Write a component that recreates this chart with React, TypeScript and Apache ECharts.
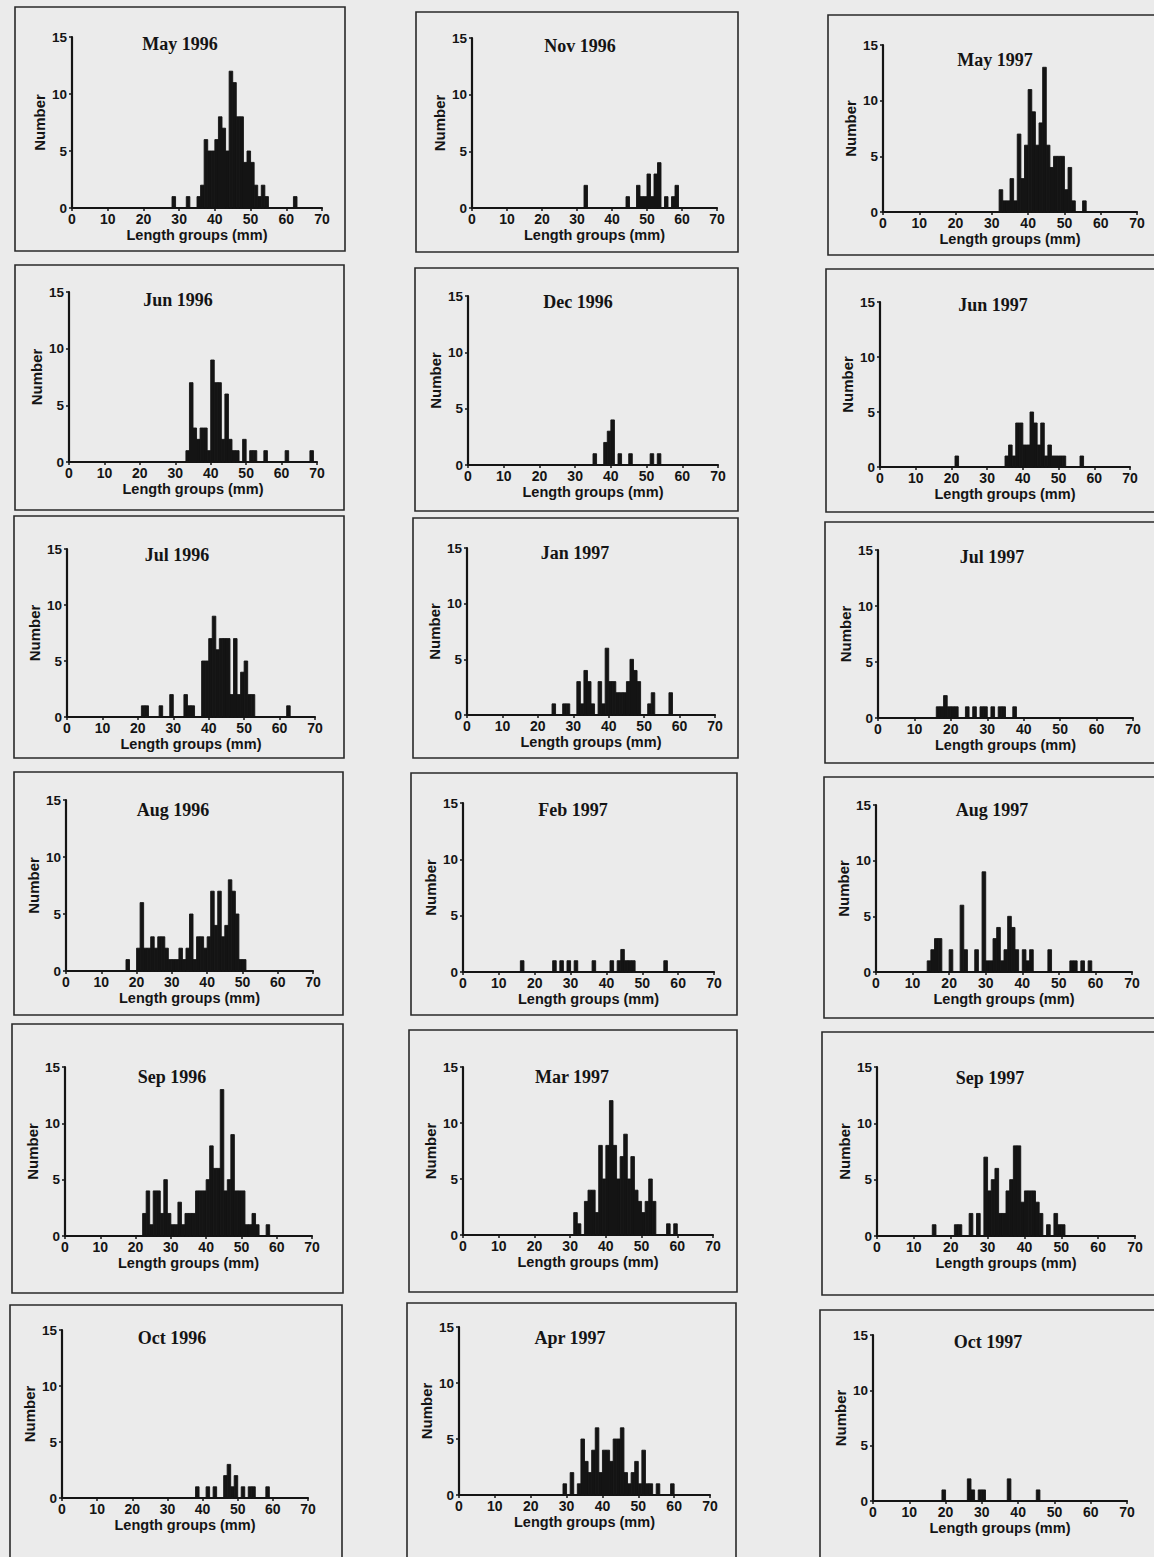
import React, { useEffect, useRef } from "react";
import * as echarts from "echarts";

// ---- data: [length group (mm), number of fish] ----
const may1996 = [[28,1],[32,1],[35,1],[36,2],[37,6],[38,5],[39,5],[40,6],[41,8],[42,7],[43,5],[44,12],[45,11],[46,8],[47,8],[48,4],[49,5],[50,4],[51,2],[52,1],[53,2],[54,1],[62,1]];
const jun1996 = [[33,1],[34,7],[35,3],[36,2],[37,3],[38,3],[39,1],[40,9],[41,7],[42,7],[43,2],[44,6],[45,2],[46,1],[47,1],[49,2],[51,1],[52,1],[55,1],[61,1],[68,1]];
const jul1996 = [[21,1],[22,1],[26,1],[29,2],[33,2],[34,1],[35,1],[38,5],[39,5],[40,7],[41,9],[42,6],[43,7],[44,7],[45,7],[46,2],[47,7],[48,2],[49,4],[50,5],[51,2],[52,2],[62,1]];
const aug1996 = [[17,1],[20,2],[21,6],[22,2],[23,2],[24,3],[25,2],[26,3],[27,3],[28,2],[29,1],[30,1],[31,1],[32,2],[33,1],[34,2],[35,5],[36,1],[37,3],[38,3],[39,2],[40,3],[41,7],[42,4],[43,7],[44,3],[45,4],[46,8],[47,7],[48,5],[49,1],[50,1]];
const sep1996 = [[22,2],[23,4],[24,1],[25,4],[26,4],[27,2],[28,5],[29,2],[30,1],[31,1],[32,3],[33,1],[34,2],[35,2],[36,2],[37,4],[38,4],[39,4],[40,5],[41,8],[42,6],[43,6],[44,13],[45,4],[46,5],[47,9],[48,4],[49,4],[50,4],[51,1],[52,1],[53,2],[54,1],[57,1]];
const oct1996 = [[38,1],[41,1],[43,1],[46,2],[47,3],[48,1],[49,2],[51,1],[53,1],[54,1],[58,1]];
const nov1996 = [[32,2],[44,1],[47,2],[48,1],[49,1],[50,3],[51,1],[52,3],[53,4],[55,1],[57,1],[58,2]];
const dec1996 = [[35,1],[38,2],[39,3],[40,4],[42,1],[45,1],[51,1],[53,1]];
const jan1997 = [[24,1],[27,1],[28,1],[31,3],[32,1],[33,4],[34,3],[35,1],[37,3],[38,1],[39,6],[40,3],[41,3],[42,2],[43,2],[44,2],[45,3],[46,5],[47,4],[48,3],[51,1],[52,2],[57,2]];
const feb1997 = [[16,1],[25,1],[27,1],[29,1],[31,1],[36,1],[41,1],[43,1],[44,2],[45,1],[46,1],[47,1],[56,1]];
const mar1997 = [[31,2],[32,1],[34,3],[35,4],[36,4],[37,2],[38,8],[39,5],[40,8],[41,12],[42,8],[43,5],[44,7],[45,9],[46,5],[47,7],[48,4],[49,3],[50,2],[51,3],[52,5],[53,3],[57,1],[59,1]];
const apr1997 = [[29,1],[31,2],[33,1],[34,5],[35,3],[36,2],[37,4],[38,6],[39,2],[40,4],[41,4],[42,3],[43,5],[44,5],[45,6],[46,2],[47,1],[48,2],[49,3],[50,1],[51,4],[52,1],[53,1],[55,1],[59,1]];
const may1997 = [[32,2],[33,1],[34,1],[35,3],[36,1],[37,7],[38,3],[39,6],[40,11],[41,9],[42,6],[43,8],[44,13],[45,6],[46,4],[47,5],[48,5],[49,5],[50,2],[51,4],[52,1],[55,1]];
const jun1997 = [[21,1],[35,1],[36,2],[37,1],[38,4],[39,4],[40,2],[41,2],[42,5],[43,4],[44,2],[45,4],[46,1],[47,2],[48,1],[49,1],[50,1],[51,1],[56,1]];
const jul1997 = [[16,1],[17,1],[18,2],[19,1],[20,1],[21,1],[24,1],[26,1],[28,1],[29,1],[31,1],[33,1],[34,1],[37,1]];
const aug1997 = [[14,1],[15,2],[16,3],[17,3],[20,2],[23,6],[24,2],[27,2],[29,9],[30,1],[31,1],[32,3],[33,4],[34,1],[35,2],[36,5],[37,4],[38,2],[40,2],[41,1],[42,2],[47,2],[53,1],[54,1],[56,1],[58,1]];
const sep1997 = [[15,1],[21,1],[22,1],[25,2],[27,2],[29,7],[30,4],[31,5],[32,6],[33,2],[34,2],[35,4],[36,5],[37,8],[38,8],[39,3],[40,4],[41,4],[42,4],[43,3],[44,2],[46,1],[48,2],[49,1],[50,1]];
const oct1997 = [[19,1],[26,2],[27,1],[29,1],[30,1],[37,2],[45,1]];

const panelTitles = [
  "May 1996", "Jun 1996", "Jul 1996", "Aug 1996", "Sep 1996", "Oct 1996",
  "Nov 1996", "Dec 1996", "Jan 1997", "Feb 1997", "Mar 1997", "Apr 1997",
  "May 1997", "Jun 1997", "Jul 1997", "Aug 1997", "Sep 1997", "Oct 1997",
];
const panelData = [
  may1996, jun1996, jul1996, aug1996, sep1996, oct1996,
  nov1996, dec1996, jan1997, feb1997, mar1997, apr1997,
  may1997, jun1997, jul1997, aug1997, sep1997, oct1997,
];
const xTicks = { min: 0, max: 70, interval: 10 };
const yTicks = { min: 0, max: 15, interval: 5 };
const xName = "Length groups (mm)";
const yName = "Number";

// ---- layout (pixels): plot area, title centre, frame box ----
type L = { x0: number; x70: number; y0: number; y15: number; tx: number; ty: number; box: number[] };
const layout: L[] = [
  { x0: 72, x70: 322, y0: 208, y15: 37, tx: 180, ty: 44, box: [15, 7, 345, 251] },
  { x0: 69, x70: 317, y0: 462, y15: 292, tx: 178, ty: 300, box: [15, 265, 344, 510] },
  { x0: 67, x70: 315, y0: 717, y15: 549, tx: 177, ty: 555, box: [14, 516, 344, 758] },
  { x0: 66, x70: 313, y0: 971, y15: 800, tx: 173, ty: 810, box: [14, 772, 343, 1015] },
  { x0: 65, x70: 312, y0: 1236, y15: 1067, tx: 172, ty: 1077, box: [12, 1024, 343, 1293] },
  { x0: 62, x70: 308, y0: 1498, y15: 1330, tx: 172, ty: 1338, box: [10, 1305, 342, 1565] },
  { x0: 472, x70: 717, y0: 208, y15: 38, tx: 580, ty: 46, box: [416, 12, 738, 252] },
  { x0: 468, x70: 718, y0: 465, y15: 296, tx: 578, ty: 302, box: [415, 268, 738, 511] },
  { x0: 467, x70: 715, y0: 715, y15: 548, tx: 575, ty: 553, box: [413, 518, 738, 758] },
  { x0: 463, x70: 714, y0: 972, y15: 803, tx: 573, ty: 810, box: [411, 773, 737, 1015] },
  { x0: 463, x70: 713, y0: 1235, y15: 1067, tx: 572, ty: 1077, box: [409, 1030, 737, 1292] },
  { x0: 459, x70: 710, y0: 1495, y15: 1327, tx: 570, ty: 1338, box: [407, 1303, 736, 1565] },
  { x0: 883, x70: 1137, y0: 212, y15: 45, tx: 995, ty: 60, box: [828, 15, 1165, 255] },
  { x0: 880, x70: 1130, y0: 467, y15: 302, tx: 993, ty: 305, box: [826, 269, 1165, 512] },
  { x0: 878, x70: 1133, y0: 718, y15: 550, tx: 992, ty: 557, box: [825, 522, 1165, 763] },
  { x0: 876, x70: 1132, y0: 972, y15: 805, tx: 992, ty: 810, box: [824, 777, 1165, 1018] },
  { x0: 877, x70: 1135, y0: 1236, y15: 1067, tx: 990, ty: 1078, box: [822, 1032, 1165, 1295] },
  { x0: 873, x70: 1127, y0: 1501, y15: 1335, tx: 988, ty: 1342, box: [820, 1310, 1165, 1565] },
];

const INK = "#141414";
const SANS = "'Liberation Sans', Arial, sans-serif";
const SERIF = "'Liberation Serif', 'Times New Roman', serif";

function buildOption() {
  const grid: any[] = [];
  const xAxis: any[] = [];
  const yAxis: any[] = [];
  const series: any[] = [];
  const graphic: any[] = [];
  layout.forEach((p, i) => {
    grid.push({ left: p.x0, top: p.y15, width: p.x70 - p.x0, height: p.y0 - p.y15, containLabel: false });
    xAxis.push({
      type: "value", gridIndex: i, ...xTicks,
      name: xName, nameLocation: "middle", nameGap: 19,
      nameTextStyle: { fontFamily: SANS, fontSize: 14.5, fontWeight: "bold", color: INK },
      axisLine: { show: true, onZero: false, lineStyle: { color: INK, width: 2.2 } },
      axisTick: { show: true, length: 3, lineStyle: { color: INK, width: 1.5 } },
      axisLabel: { fontFamily: SANS, fontSize: 14, fontWeight: "bold", color: INK, margin: 4 },
      splitLine: { show: false },
    });
    yAxis.push({
      type: "value", gridIndex: i, ...yTicks,
      name: yName, nameLocation: "middle", nameGap: 25, nameRotate: 90,
      nameTextStyle: { fontFamily: SANS, fontSize: 15, fontWeight: "bold", color: INK },
      axisLine: { show: true, onZero: false, lineStyle: { color: INK, width: 2.2 } },
      axisTick: { show: true, length: 3, lineStyle: { color: INK, width: 1.5 } },
      axisLabel: { fontFamily: SANS, fontSize: 13.5, fontWeight: "bold", color: INK, margin: 5 },
      splitLine: { show: false },
    });
    series.push({
      type: "custom", xAxisIndex: i, yAxisIndex: i,
      encode: { x: 0, y: 1 },
      data: panelData[i],
      renderItem: (params: any, api: any) => {
        const x = api.value(0);
        const c = api.value(1);
        const a = api.coord([x, c]);
        const b = api.coord([x + 1, 0]);
        return {
          type: "rect",
          shape: { x: a[0], y: a[1], width: b[0] - a[0], height: b[1] - a[1] },
          style: { fill: INK, stroke: INK, lineWidth: 0.9 },
        };
      },
    });
    const [bx1, by1, bx2, by2] = p.box;
    graphic.push({
      type: "rect", silent: true, z: -1,
      shape: { x: bx1, y: by1, width: bx2 - bx1, height: by2 - by1 },
      style: { fill: "none", stroke: "#2a2a2a", lineWidth: 1.6 },
    });
    graphic.push({
      type: "text", silent: true,
      x: p.tx, y: p.ty,
      style: { text: panelTitles[i], fontFamily: SERIF, fontSize: 18, fontWeight: "bold", fill: INK, align: "center", verticalAlign: "middle" },
    });
  });
  return { animation: false, backgroundColor: "#ebebeb", grid, xAxis, yAxis, series, graphic };
}

export default function App() {
  const ref = useRef<HTMLDivElement>(null);
  useEffect(() => {
    if (!ref.current) return;
    const chart = echarts.init(ref.current, undefined, { renderer: "svg" });
    chart.setOption(buildOption() as any);
    return () => chart.dispose();
  }, []);
  return (
    <div
      ref={ref}
      style={{ position: "fixed", left: 0, top: 0, width: 1154, height: 1557, background: "#ebebeb" }}
    />
  );
}
